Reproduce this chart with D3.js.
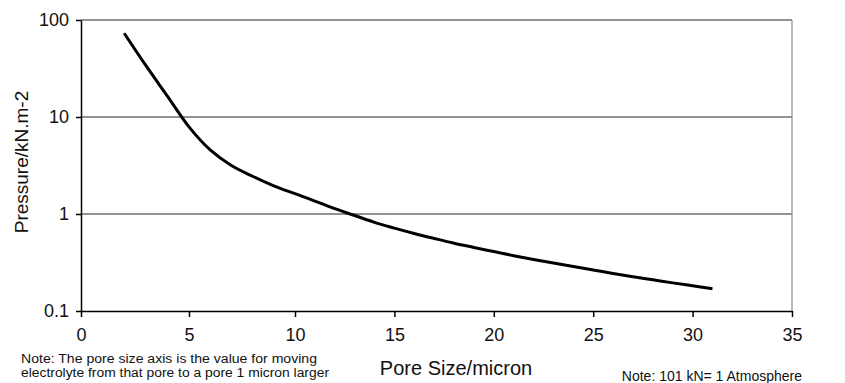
<!DOCTYPE html>
<html>
<head>
<meta charset="utf-8">
<script src="https://cdn.jsdelivr.net/npm/d3@7"></script>
<style>
  body { margin: 0; background: #fff; }
  text { font-family: "Liberation Sans", Arial, sans-serif; }
</style>
</head>
<body>
<div id="chart"></div>
<script>
// pore size (micron) and pressure (kN.m-2)
const poreSize = [2, 3, 4, 5, 6, 7, 8, 9, 10, 11, 12, 13, 14, 15, 16, 17, 18, 19, 20, 21, 22, 23, 24, 25, 26, 27, 28, 29, 30, 31];
const pressure = [73, 34, 16.4, 7.9, 4.57, 3.16, 2.45, 1.95, 1.62, 1.36, 1.135, 0.966, 0.82, 0.716, 0.63, 0.56, 0.5, 0.452, 0.41, 0.372, 0.34, 0.312, 0.287, 0.265, 0.244, 0.226, 0.21, 0.195, 0.182, 0.17];
const xTicks = [0, 5, 10, 15, 20, 25, 30, 35];
const yTicks = [0.1, 1, 10, 100];
const yTickLabels = ["0.1", "1", "10", "100"];

const W = 845, H = 383;
const plotL = 81, plotR = 792, plotT = 20, plotB = 311;

const svg = d3.select("#chart").append("svg")
  .attr("width", W)
  .attr("height", H);

// the original axis is a little stretched below 10, so use a piecewise scale
const x = d3.scaleLinear().domain([0, 5, 10, 35]).range([plotL, 189, 295, plotR]);
const y = d3.scaleLog().domain([0.1, 100]).range([plotB, plotT]);

// gridlines
svg.append("g").selectAll("line")
  .data(yTicks.slice(1))
  .join("line")
  .attr("x1", plotL).attr("x2", plotR)
  .attr("y1", d => y(d)).attr("y2", d => y(d))
  .style("stroke", "#6e6e6e")
  .style("stroke-width", 1.5);

// right border
svg.append("line")
  .attr("x1", plotR).attr("x2", plotR)
  .attr("y1", plotT).attr("y2", plotB)
  .style("stroke", "#8a8a8a")
  .style("stroke-width", 1.2);

// y axis
const yAxis = svg.append("g")
  .attr("transform", `translate(${plotL},0)`)
  .call(d3.axisLeft(y).tickValues(yTicks).tickFormat((d, i) => yTickLabels[i]).tickSize(5).tickSizeOuter(0));
yAxis.select(".domain").style("stroke", "#000").style("stroke-width", 1.5);
yAxis.selectAll(".tick line").style("stroke", "#000").style("stroke-width", 1.5);
yAxis.selectAll(".tick text")
  .attr("x", -12)
  .style("font-size", "18px")
  .style("fill", "#111");

// x axis
const xAxis = svg.append("g")
  .attr("transform", `translate(0,${plotB})`)
  .call(d3.axisBottom(x).tickValues(xTicks).tickFormat(d3.format("d")).tickSize(6).tickSizeOuter(0));
xAxis.select(".domain").style("stroke", "#000").style("stroke-width", 1.5);
xAxis.selectAll(".tick line").style("stroke", "#000").style("stroke-width", 1.5);
xAxis.selectAll(".tick text")
  .attr("y", 17)
  .style("font-size", "18px")
  .style("fill", "#111");

// curve
const line = d3.line()
  .x(d => x(d[0]))
  .y(d => y(d[1]))
  .curve(d3.curveCatmullRom);

svg.append("path")
  .datum(d3.zip(poreSize, pressure))
  .attr("d", line)
  .style("fill", "none")
  .style("stroke", "#000")
  .style("stroke-width", 3);

// axis titles
svg.append("text")
  .attr("transform", `translate(21,162) rotate(-90)`)
  .attr("text-anchor", "middle")
  .attr("dy", "0.35em")
  .style("font-size", "19px")
  .style("fill", "#111")
  .text("Pressure/kN.m-2");

svg.append("text")
  .attr("x", 456)
  .attr("y", 375)
  .attr("text-anchor", "middle")
  .style("font-size", "20px")
  .style("fill", "#111")
  .text("Pore Size/micron");

// notes (the original uses a narrow face, so stretch a smaller font to the same width)
const noteLeft = ["Note: The pore size axis is the value for moving",
                  "electrolyte from that pore to a pore 1 micron larger"];
const noteWidths = [296, 308];
svg.append("g").selectAll("text")
  .data(noteLeft)
  .join("text")
  .attr("x", 21)
  .attr("y", (d, i) => 363 + i * 14)
  .attr("textLength", (d, i) => noteWidths[i])
  .attr("lengthAdjust", "spacingAndGlyphs")
  .style("font-size", "12px")
  .style("fill", "#111")
  .text(d => d);

svg.append("text")
  .attr("x", 802)
  .attr("y", 381)
  .attr("text-anchor", "end")
  .style("font-size", "14px")
  .style("fill", "#111")
  .text("Note: 101 kN= 1 Atmosphere");
</script>
</body>
</html>
